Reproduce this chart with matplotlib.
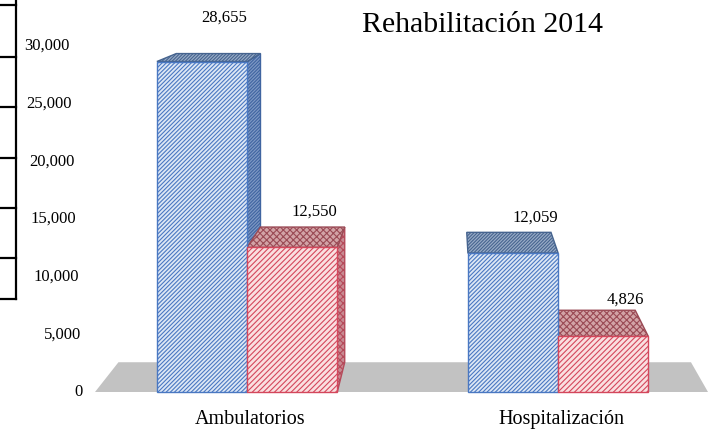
import numpy as np
import matplotlib.pyplot as plt
from matplotlib.patches import Polygon
from matplotlib.lines import Line2D
from matplotlib.transforms import blended_transform_factory

# data
categories = ['Ambulatorios', 'Hospitalización']
serie_azul = [28655, 12059]
serie_roja = [12550, 4826]
yticks = [0, 5000, 10000, 15000, 20000, 25000, 30000]
titulo = 'Rehabilitación 2014'

plt.rcParams['font.family'] = ['Liberation Serif', 'DejaVu Serif']
plt.rcParams['hatch.linewidth'] = 0.8

W, H = 716, 433
fig = plt.figure(figsize=(W / 100, H / 100), dpi=100)
ax = fig.add_axes([95 / W, 41 / H, 613 / W, 346 / H])
x0, x1 = -0.489, 1.482
ax.set_xlim(x0, x1)
ax.set_ylim(0, 30000)
ax.axis('off')

# fake 3d: back edges are pulled toward a vanishing point
k = 0.066
vx, vy = 0.653, 39100


def back(x, y):
    return x + k * (vx - x), y + k * (vy - y)


def poly(pts, fc, ec, hatch=None, z=1):
    ax.add_patch(Polygon(pts, closed=True, facecolor=fc, edgecolor=ec,
                         hatch=hatch, lw=1.0, zorder=z, clip_on=False))


# floor
poly([(x0, 0), (x1, 0), back(x1, 0), back(x0, 0)], '#c2c2c2', 'none', z=0)

xs = np.arange(len(categories))
w = 0.29
estilos = [
    dict(vals=serie_azul, off=-w / 2, fc='#dde7f5', ec='#4a78c2', hatch='////////',
         top_fc='#98abc6', top_ec='#46648f', top_hatch='//////////',
         side_fc='#7d98c4', side_ec='#3f64a0'),
    dict(vals=serie_roja, off=w / 2, fc='#fadfe0', ec='#d4475c', hatch='//////',
         top_fc='#d2a3a6', top_ec='#9a4a55', top_hatch='xxxxx',
         side_fc='#c98a92', side_ec='#b54a5a'),
]

# side and top faces, left to right
bars = []
for i, xc in enumerate(xs):
    for s in estilos:
        bars.append((xc + s['off'], s['vals'][i], s))
bars.sort(key=lambda b: b[0])

for xm, h, s in bars:
    xl, xr = xm - w / 2, xm + w / 2
    if xr < vx:
        poly([(xr, 0), (xr, h), back(xr, h), back(xr, 0)],
             s['side_fc'], s['side_ec'], s['top_hatch'], z=2)
    poly([(xl, h), (xr, h), back(xr, h), back(xl, h)],
         s['top_fc'], s['top_ec'], s['top_hatch'], z=2)

# front faces
for s in estilos:
    ax.bar(xs + s['off'], s['vals'], w, color=s['fc'], edgecolor=s['ec'],
           hatch=s['hatch'], lw=1.0, zorder=3, clip_on=False)

# value labels
pads = {0: [20, 5], 1: [5, 2]}
for j, s in enumerate(estilos):
    for i, xc in enumerate(xs):
        v = s['vals'][i]
        bx, by = back(xc + s['off'], v)
        ax.annotate(f'{v:,}', (xc + s['off'] + 0.072, by), xytext=(0, pads[j][i]),
                    textcoords='offset points', ha='center', va='bottom',
                    fontsize=12, zorder=5, annotation_clip=False)

# y tick labels, slanted like the original
tr = blended_transform_factory(fig.transFigure, ax.transData)
for v in yticks:
    ax.text((83 - 13 * v / 30000) / W, v, f'{v:,}', transform=tr,
            ha='right', va='center', fontsize=12)

# category labels
for xc, c in zip(xs, categories):
    ax.annotate(c, (xc + 0.01, 0), xytext=(0, -20), textcoords='offset points',
                ha='center', va='center', fontsize=14.5, annotation_clip=False)

fig.text(482 / W, 1 - 32 / H, titulo, ha='center', va='baseline', fontsize=21.5)

# piece of a table on the left edge
tabla_y = [5, 57, 107, 158, 208, 258, 299]
fig.add_artist(Line2D([16 / W, 16 / W], [1, 1 - 299 / H], color='black',
                      lw=1.6, transform=fig.transFigure))
for y in tabla_y:
    fig.add_artist(Line2D([0, 16 / W], [1 - y / H, 1 - y / H], color='black',
                          lw=1.6, transform=fig.transFigure))

fig.savefig('out.png', dpi=100)
